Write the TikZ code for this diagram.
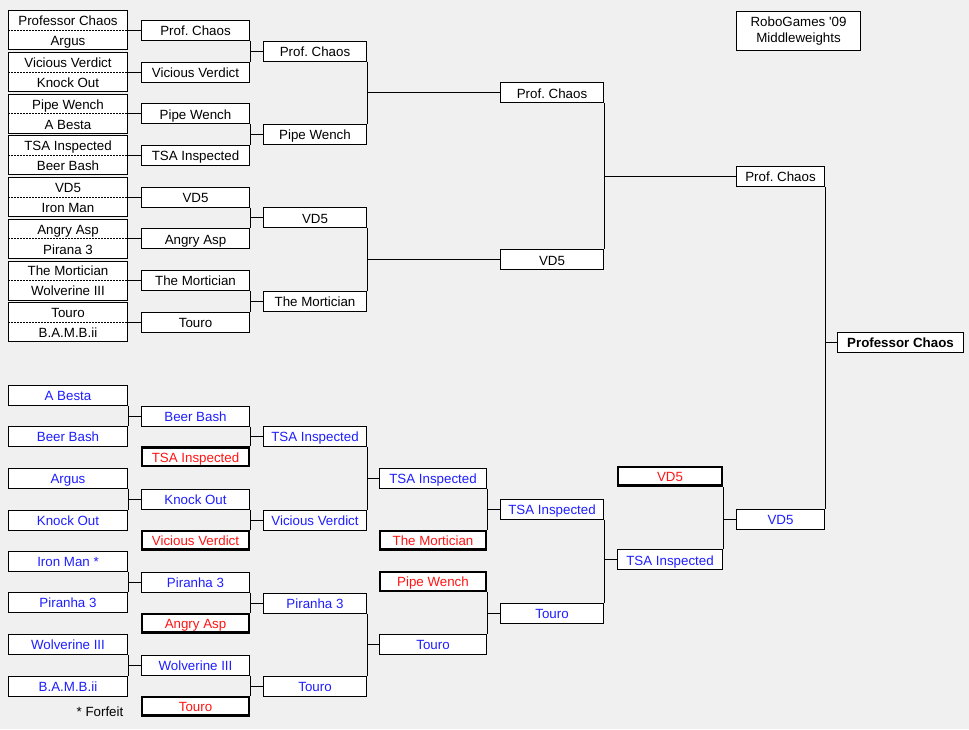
\documentclass[tikz,border=0pt]{standalone}
\usepackage{fontspec}
\newfontfamily\fnt{Liberation Sans}
\newcommand\myfnt{\fnt\fontsize{13.33pt}{16pt}\selectfont\frenchspacing}
\definecolor{bg}{RGB}{240,240,240}
\definecolor{lbblue}{RGB}{30,30,255}
\definecolor{lbred}{RGB}{255,20,20}
\tikzset{
  box/.style={draw, fill=white, line width=1pt, inner sep=0pt, minimum height=20pt,
    text height=13.4pt, text depth=2.7pt, font=\myfnt},
  win/.style={box, line width=2.4pt, minimum height=18.6pt, text=lbred},
  colA/.style={minimum width=119pt},
  colB/.style={minimum width=108pt},
  colBw/.style={minimum width=106.6pt},
  colC/.style={minimum width=103pt},
  colD/.style={minimum width=107pt},
  colDw/.style={minimum width=105.6pt},
  colE/.style={minimum width=103pt},
  colF/.style={minimum width=105pt},
  colFw/.style={minimum width=103.6pt},
  colG/.style={minimum width=88pt},
  pairbox/.style={draw, fill=white, line width=1pt, inner sep=0pt, minimum width=119pt, minimum height=39pt},
  lbl/.style={inner sep=0pt, text height=13.4pt, text depth=2.7pt, font=\myfnt},
  wire/.style={line width=1pt},
  blu/.style={text=lbblue},
  dashsep/.style={line width=1pt, dash pattern=on 2pt off 1pt}
}
\begin{document}
\begin{tikzpicture}[x=1pt,y=-1pt]
\fill[bg] (0,0) rectangle (969,729);
\useasboundingbox (0,0) rectangle (969,729);

% ---------- upper bracket ----------
\foreach \k/\a/\b/\w in {0/Professor Chaos/Argus/Prof. Chaos,
  1/Vicious Verdict/Knock Out/Vicious Verdict,
  2/Pipe Wench/A Besta/Pipe Wench,
  3/TSA Inspected/Beer Bash/TSA Inspected,
  4/VD5/Iron Man/VD5,
  5/Angry Asp/Pirana 3/Angry Asp,
  6/The Mortician/Wolverine III/The Mortician,
  7/Touro/B.A.M.B.ii/Touro}{
  \pgfmathsetmacro\cy{30.3+41.7*\k}
  \node[pairbox] (p\k) at (68,\cy) {};
  \draw[dashsep] (p\k.west) -- (p\k.east);
  \node[lbl] (pa\k) at (68,\cy-10) {\a};
  \node[lbl] (pb\k) at (68,\cy+10) {\b};
  \node[box,colB] (u\k) at (195.5,\cy) {\w};
  \draw[wire] (p\k.east) -- (u\k.west);
}
\foreach \i/\w in {0/Prof. Chaos,1/Pipe Wench,2/VD5,3/The Mortician}{
  \pgfmathsetmacro\cy{51.15+83.4*\i}
  \node[box,colC] (v\i) at (315,\cy) {\w};
}
\node[box,colE] (w0) at (552,92.85) {Prof. Chaos};
\node[box,colE] (w1) at (552,259.65) {VD5};
\node[box,colG] (sf) at (780.5,176) {Prof. Chaos};

\foreach \i in {0,...,3}{
  \pgfmathtruncatemacro\ta{2*\i}
  \pgfmathtruncatemacro\tb{2*\i+1}
  \draw[wire] (u\ta.south east) -- (u\tb.north east);
  \draw[wire] (u\ta.east |- v\i.west) -- (v\i.west);
}
\draw[wire] (v0.south east) -- (v1.north east);
\draw[wire] (v0.east |- w0.west) -- (w0.west);
\draw[wire] (v2.south east) -- (v3.north east);
\draw[wire] (v2.east |- w1.west) -- (w1.west);
\draw[wire] (w0.south east) -- (w1.north east);
\draw[wire] (w0.east |- sf.west) -- (sf.west);

% title
\node[draw, fill=white, line width=1pt, inner sep=0pt, minimum width=124pt, minimum height=39pt,
  align=center, font=\myfnt] (title) at (798.5,31.3) {RoboGames '09\\Middleweights};

% final
\node[box, minimum width=126pt, font=\myfnt\bfseries] (fin) at (900.5,342) {Professor Chaos};

% ---------- lower bracket ----------
\node[box,colA,blu] (la0) at (68,395) {A Besta};
\node[box,colA,blu] (la1) at (68,436.3) {Beer Bash};
\node[box,colA,blu] (la2) at (68,478) {Argus};
\node[box,colA,blu] (la3) at (68,520) {Knock Out};
\node[box,colA,blu] (la4) at (68,561) {Iron Man *};
\node[box,colA,blu] (la5) at (68,602.6) {Piranha 3};
\node[box,colA,blu] (la6) at (68,644.3) {Wolverine III};
\node[box,colA,blu] (la7) at (68,686) {B.A.M.B.ii};

\node[box,colB,blu] (lb0) at (195.5,416) {Beer Bash};
\node[win,colBw] (lb1) at (195.5,456.7) {TSA Inspected};
\node[box,colB,blu] (lb2) at (195.5,499) {Knock Out};
\node[win,colBw] (lb3) at (195.5,540) {Vicious Verdict};
\node[box,colB,blu] (lb4) at (195.5,582) {Piranha 3};
\node[win,colBw] (lb5) at (195.5,623.3) {Angry Asp};
\node[box,colB,blu] (lb6) at (195.5,665) {Wolverine III};
\node[win,colBw] (lb7) at (195.5,706.3) {Touro};

\node[box,colC,blu] (lc0) at (315,436.3) {TSA Inspected};
\node[box,colC,blu] (lc1) at (315,520) {Vicious Verdict};
\node[box,colC,blu] (lc2) at (315,603) {Piranha 3};
\node[box,colC,blu] (lc3) at (315,686) {Touro};

\node[box,colD,blu] (ld0) at (433,478) {TSA Inspected};
\node[win,colDw] (ld1) at (433,540) {The Mortician};
\node[win,colDw] (ld2) at (433,581.5) {Pipe Wench};
\node[box,colD,blu] (ld3) at (433,644.3) {Touro};

\node[box,colE,blu] (le0) at (552,509) {TSA Inspected};
\node[box,colE,blu] (le1) at (552,613) {Touro};

\node[win,colFw] (lf0) at (670,476.2) {VD5};
\node[box,colF,blu] (lf1) at (670,559.8) {TSA Inspected};

\node[box,colG,blu] (lg0) at (780.5,519) {VD5};

\node[lbl] (forfeit) at (100,711) {* Forfeit};

% lower connectors
\foreach \x/\y/\z in {la0/la1/lb0, la2/la3/lb2, la4/la5/lb4, la6/la7/lb6}{
  \draw[wire] (\x.south east) -- (\y.north east);
  \draw[wire] (\x.east |- \z.west) -- (\z.west);
}
\foreach \x/\y/\z in {lb0/lb1/lc0, lb2/lb3/lc1, lb4/lb5/lc2, lb6/lb7/lc3}{
  \draw[wire] (\x.south east) -- (\x.east |- \y.north);
  \draw[wire] (\x.east |- \z.west) -- (\z.west);
}
\draw[wire] (lc0.south east) -- (lc1.north east);
\draw[wire] (lc0.east |- ld0.west) -- (ld0.west);
\draw[wire] (lc2.south east) -- (lc3.north east);
\draw[wire] (lc2.east |- ld3.west) -- (ld3.west);
\draw[wire] (ld0.south east) -- (ld0.east |- ld1.north);
\draw[wire] (ld0.east |- le0.west) -- (le0.west);
\draw[wire] (ld3.north east) -- (ld3.east |- ld2.south);
\draw[wire] (ld3.east |- le1.west) -- (le1.west);
\draw[wire] (le0.south east) -- (le1.north east);
\draw[wire] (le0.east |- lf1.west) -- (lf1.west);
\draw[wire] (lf1.north east) -- (lf1.east |- lf0.south);
\draw[wire] (lf1.east |- lg0.west) -- (lg0.west);
\draw[wire] (sf.south east) -- (lg0.north east);
\draw[wire] (sf.east |- fin.west) -- (fin.west);
\end{tikzpicture}
\end{document}
